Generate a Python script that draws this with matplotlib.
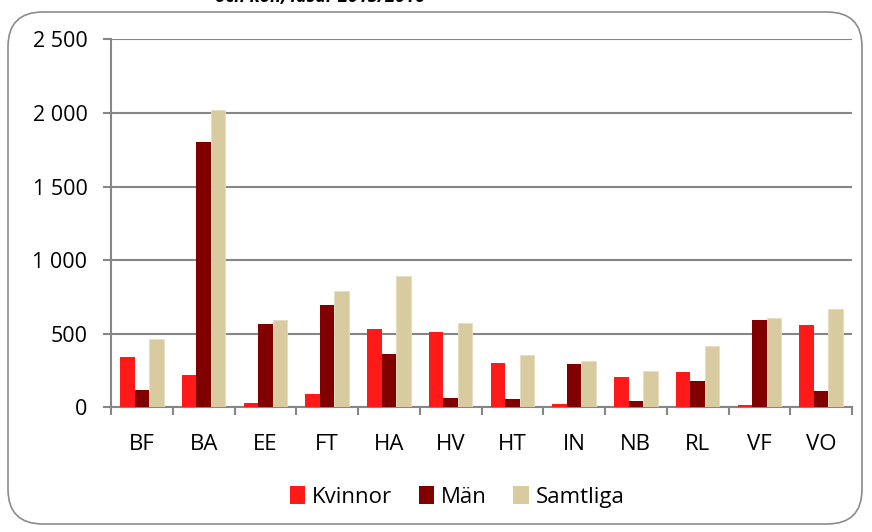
import matplotlib
matplotlib.use("Agg")
import matplotlib.pyplot as plt
import numpy as np
from matplotlib.patches import FancyBboxPatch, Patch

categories = ["BF", "BA", "EE", "FT", "HA", "HV", "HT", "IN", "NB", "RL", "VF", "VO"]
kvinnor = [339, 218, 32, 93, 533, 509, 298, 25, 204, 241, 16, 561]
man = [120, 1800, 563, 693, 361, 61, 54, 295, 46, 182, 590, 109]
samtliga = [461, 2018, 593, 790, 892, 570, 354, 318, 250, 418, 606, 668]
series_names = ["Kvinnor", "Män", "Samtliga"]
yticks = [0, 500, 1000, 1500, 2000, 2500]
ytick_labels = ["0", "500", "1 000", "1 500", "2 000", "2 500"]

plt.rcParams['font.family'] = ['Open Sans', 'DejaVu Sans']

fig = plt.figure(figsize=(8.72, 5.32), dpi=100)
ax = fig.add_axes([111/872, 1-407.3/532, (852-111)/872, (407.3-39.4)/532])

# outer rounded border
border = FancyBboxPatch((8/872, 8/532), (862-8)/872, (522-10)/532,
                        boxstyle="round,pad=0,rounding_size=0.04",
                        transform=fig.transFigure, fill=False,
                        edgecolor="#8c8c8c", linewidth=1.2, mutation_aspect=872/532)
fig.patches.append(border)

# cut-off title
fig.text(320/872, 1.006, "och kön, läsår 2015/2016", ha="center", va="center",
         fontsize=13, fontweight="bold", fontstyle="italic", color="black")

x = np.arange(len(categories))
w = 0.235
colors = ["#ff1a1a", "#800000", "#d8cba0"]
ax.bar(x - w, kvinnor, w, color=colors[0], zorder=3)
ax.bar(x, man, w, color=colors[1], zorder=3)
ax.bar(x + w, samtliga, w, color=colors[2], edgecolor="#e6dcc0", linewidth=0.6, zorder=3)

ax.set_xlim(-0.5, len(categories) - 0.5)
ax.set_ylim(0, 2500)
ax.set_yticks(yticks)
ax.set_yticklabels(ytick_labels, fontsize=15.5)
ax.yaxis.grid(True, color="#868686", linewidth=1.5, zorder=0)
ax.set_axisbelow(True)

ax.set_xticks(x)
ax.set_xticklabels(categories, fontsize=16)
ax.set_xticks(np.arange(len(categories) + 1) - 0.5, minor=True)
ax.tick_params(axis="x", which="major", length=0, pad=19)
ax.tick_params(axis="x", which="minor", length=6, width=1.5, color="#868686", direction="out")
ax.tick_params(axis="y", length=6, width=1.5, color="#868686", pad=11)

for s in ["top", "right"]:
    ax.spines[s].set_visible(False)
ax.spines["left"].set_color("#868686")
ax.spines["left"].set_linewidth(1.5)
ax.spines["bottom"].set_color("#868686")
ax.spines["bottom"].set_linewidth(1.5)

handles = [Patch(facecolor=c) for c in colors]
fig.legend(handles, series_names, loc="center", bbox_to_anchor=(457/872, 1-497/532),
           ncol=3, frameon=False, fontsize=16, handlelength=0.7, handleheight=0.85,
           handletextpad=0.3, columnspacing=1.2)

fig.savefig("out.png", dpi=100)
